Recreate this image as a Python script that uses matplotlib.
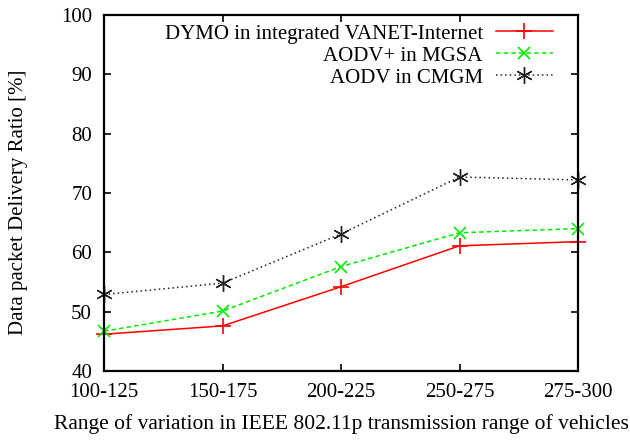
import numpy as np
import matplotlib
matplotlib.use("Agg")
import matplotlib.pyplot as plt

plt.rcParams.update({"font.family": "Liberation Serif", "font.size": 15,
                     "axes.linewidth": 1.6})

categories = ["100-125", "150-175", "200-225", "250-275", "275-300"]
dymo = [46.2, 47.6, 54.2, 61.1, 61.8]
aodv_plus = [46.7, 50.1, 57.6, 63.3, 64.0]
aodv = [52.9, 54.8, 63.1, 72.7, 72.2]

x = np.arange(len(categories))

fig = plt.figure(figsize=(6.3, 4.4), dpi=100)
ax = fig.add_axes([104/630, (440 - 371)/440, 474/630, 356/440])

ax.plot(x, dymo, color="#ff0000", lw=1.1, ls="-", marker="+", ms=12, mew=1.2,
        clip_on=False, label="DYMO in integrated VANET-Internet")
ax.plot(x, aodv_plus, color="#00ee00", lw=1.1, ls=(0, (3, 2)), marker="x", ms=9, mew=1.2,
        clip_on=False, label="AODV+ in MGSA")
ax.plot(x, aodv, color="#222222", lw=1.1, ls=(0, (1, 2)), marker=(6, 2, 0), ms=12, mew=1.0,
        clip_on=False, label="AODV in CMGM")

ax.set_xlim(0, 4)
ax.set_ylim(40, 100)
ax.set_xticks(x)
ax.set_xticklabels(categories)
ax.set_yticks(np.arange(40, 101, 10))
ax.tick_params(direction="in", length=5, width=1.2, top=True, right=True)
ax.tick_params(axis="y", pad=8.6)
ax.tick_params(axis="x", pad=8.6)

ax.set_xlabel("Range of variation in IEEE 802.11p transmission range of vehicles",
              fontsize=15.5)
ax.xaxis.set_label_coords(0.5, (371 - 414) / 356)
ax.set_ylabel("Data packet Delivery Ratio [%]")
ax.yaxis.set_label_coords((28 - 104) / 474, (371 - 202) / 356)

ax.legend(loc="upper right", bbox_to_anchor=((553 - 104) / 474, 1 - 9 / 356),
          frameon=False, markerfirst=False, handlelength=2.74, borderaxespad=0,
          borderpad=0, labelspacing=0.12, handletextpad=0.63)

fig.savefig("out.png", dpi=100)
